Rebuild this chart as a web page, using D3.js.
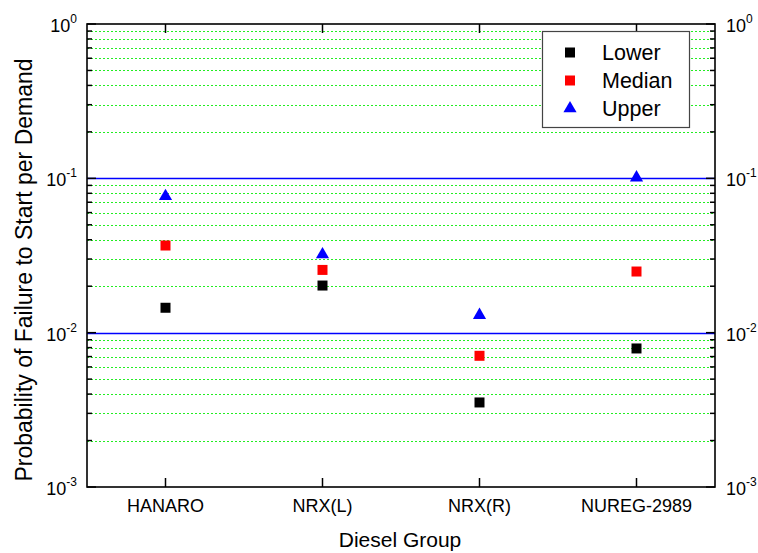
<!DOCTYPE html>
<html><head><meta charset="utf-8">
<script src="https://cdn.jsdelivr.net/npm/d3@7"></script>
<style>body{margin:0;background:#fff}svg{display:block;font-family:Arial,"Liberation Sans",sans-serif}</style>
</head><body><svg id="c" width="758" height="553"></svg>
<script>
const categories = ["HANARO", "NRX(L)", "NRX(R)", "NUREG-2989"];
const lowerValues = [0.0145, 0.0202, 0.00353, 0.0079];
const medianValues = [0.0367, 0.0255, 0.00708, 0.0249];
const upperValues = [0.0765, 0.0321, 0.0130, 0.101];
const yTickExps = [0, -1, -2, -3];
const seriesNames = ["Lower", "Median", "Upper"];
const seriesColors = ["#000000", "#ff0000", "#0000ff"];

const svg = d3.select("#c");
const L = 87, R = 715, T = 24, B = 487;
const x = d3.scaleBand().domain(categories).range([L, R]).padding(0);
const cx = d => x(d) + x.bandwidth() / 2;
const y = d3.scaleLog().domain([1e-3, 1]).range([B, T]);

// minor grid
const minors = [];
for (let e = -3; e < 0; e++) for (let m = 2; m <= 9; m++) minors.push(m * Math.pow(10, e));
svg.append("g").attr("shape-rendering", "crispEdges").selectAll("line").data(minors).join("line")
  .attr("x1", L).attr("x2", R).attr("y1", d => Math.round(y(d)) + 0.5).attr("y2", d => Math.round(y(d)) + 0.5)
  .attr("stroke", "#22ee22").attr("stroke-width", 1).attr("stroke-dasharray", "2,2");
// major grid
svg.append("g").selectAll("line").data([1e-1, 1e-2]).join("line")
  .attr("x1", L).attr("x2", R).attr("y1", d => Math.round(y(d)) + 0.5).attr("y2", d => Math.round(y(d)) + 0.5)
  .attr("stroke", "#0000ff").attr("stroke-width", 1.3);

// axes with inward ticks
const majorVals = yTickExps.map(e => Math.pow(10, e));
function yAxisTicks(xPos, dir) {
  const g = svg.append("g");
  g.selectAll(".mn").data(minors).join("line")
    .attr("x1", xPos).attr("x2", xPos + dir * 5).attr("y1", d => y(d)).attr("y2", d => y(d))
    .attr("stroke", "#000").attr("stroke-width", 1.5);
  g.selectAll(".mj").data(majorVals).join("line")
    .attr("x1", xPos).attr("x2", xPos + dir * 9).attr("y1", d => y(d)).attr("y2", d => y(d))
    .attr("stroke", "#000").attr("stroke-width", 1.5);
}
yAxisTicks(L, 1); yAxisTicks(R, -1);
function xAxisTicks(yPos, dir) {
  svg.append("g").selectAll("line").data(categories).join("line")
    .attr("x1", d => cx(d)).attr("x2", d => cx(d)).attr("y1", yPos).attr("y2", yPos + dir * 9)
    .attr("stroke", "#000").attr("stroke-width", 1.5);
}
xAxisTicks(B, -1); xAxisTicks(T, 1);
svg.append("rect").attr("x", L).attr("y", T).attr("width", R - L).attr("height", B - T)
  .attr("fill", "none").attr("stroke", "#000").attr("stroke-width", 1.6);

// y tick labels
function yLabels(anchorX, anchor) {
  const g = svg.append("g");
  yTickExps.forEach(e => {
    const t = g.append("text").attr("x", anchorX).attr("y", y(Math.pow(10, e)) + 8)
      .attr("text-anchor", anchor).attr("font-size", 18).attr("fill", "#000");
    t.append("tspan").text("10");
    t.append("tspan").attr("font-size", 12).attr("dy", -9).text(String(e));
  });
}
yLabels(77, "end");
yLabels(726, "start");

// x labels
svg.append("g").selectAll("text").data(categories).join("text")
  .attr("x", d => cx(d)).attr("y", 512).attr("text-anchor", "middle").attr("font-size", 18).text(d => d);

// titles
svg.append("text").attr("x", 400).attr("y", 547).attr("text-anchor", "middle").attr("font-size", 21).text("Diesel Group");
svg.append("text").attr("transform", `translate(32,270) rotate(-90)`).attr("text-anchor", "middle")
  .attr("font-size", 23).text("Probability of Failure to Start per Demand");

// markers
const sq = d3.symbol().type(d3.symbolSquare).size(100);
const tri = d3.symbol().type(d3.symbolTriangle).size(75);
const allSeries = [lowerValues, medianValues, upperValues];
allSeries.forEach((vals, i) => {
  svg.append("g").selectAll("path").data(vals).join("path")
    .attr("d", i === 2 ? tri : sq)
    .attr("transform", (d, j) => `translate(${cx(categories[j])},${y(d)})`)
    .attr("fill", seriesColors[i]);
});

// legend
const lg = svg.append("g");
lg.append("rect").attr("x", 542.5).attr("y", 31.5).attr("width", 147).attr("height", 96)
  .attr("fill", "#fff").attr("stroke", "#444").attr("stroke-width", 1.2);
seriesNames.forEach((n, i) => {
  const yy = 52.5 + i * 28;
  lg.append("path").attr("d", i === 2 ? tri() : sq()).attr("transform", `translate(570,${yy})`).attr("fill", seriesColors[i]);
  lg.append("text").attr("x", 602).attr("y", yy + 7.5).attr("font-size", 21.5).text(n);
});
</script></body></html>
